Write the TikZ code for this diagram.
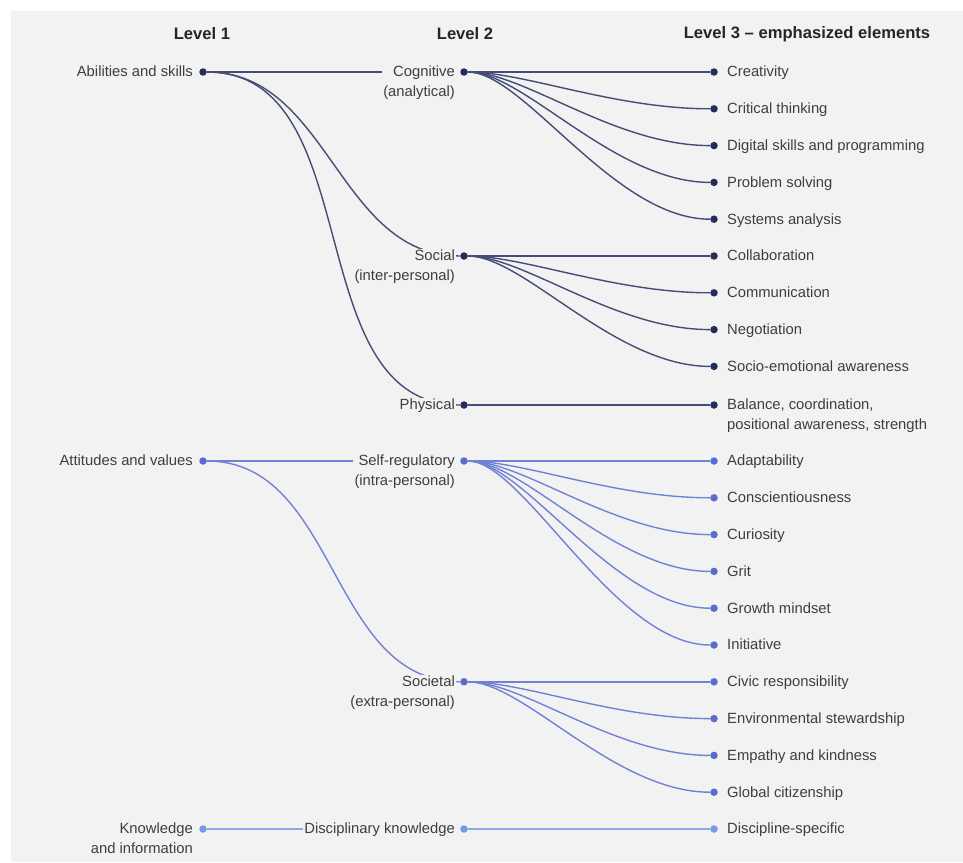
\documentclass[tikz,border=0pt]{standalone}
\usepackage{fontspec}
\setmainfont{Liberation Sans}
\usetikzlibrary{positioning}

\definecolor{paper}{RGB}{242,242,242}
\definecolor{skillc}{RGB}{36,44,94}
\definecolor{valuec}{RGB}{88,108,206}
\definecolor{knowc}{RGB}{116,154,230}
\definecolor{inkc}{RGB}{62,62,62}

\pgfdeclarelayer{paperlayer}
\pgfdeclarelayer{wires}
\pgfsetlayers{paperlayer,wires,main}

\begin{document}
\begin{tikzpicture}[
        x=1pt, y=1pt,
        node distance=28.9pt and 242.1pt,
        every node/.style={font=\fontsize{14.8}{19.8}\selectfont, text=inkc},
        heading/.style={font=\fontsize{16.6}{19}\selectfont\bfseries, text=black!85},
        dot/.style={circle, fill=#1, inner sep=0pt, minimum size=7.5pt},
        lefttext/.style={anchor=north east, align=right, fill=paper, inner sep=1pt, yshift=7.1pt},
        righttext/.style={anchor=north west, align=left, inner sep=1pt, yshift=7.1pt},
        wire/.style={line width=1.4pt, draw=#1!85!white},
        drop/.style={out=0, in=180},
        fan/.style={to path={.. controls +(60,0) and +(-100,0) .. (\tikztotarget)}}
    ]
    \useasboundingbox (0,0) rectangle (963,-862);

    % Headings
    \node[heading] (lev1) at (202,-34) {Level 1};
    \node[heading] (lev2) at (465,-34) {Level 2};
    \node[heading] (lev3) at (807,-34) {Level 3 -- emphasized elements};

    % Level 3 dots
    \node[dot=skillc] (crea) at (714,-72) {};
    \node[dot=skillc, below=of crea] (crit) {};
    \node[dot=skillc, below=of crit] (digi) {};
    \node[dot=skillc, below=of digi] (prob) {};
    \node[dot=skillc, below=of prob] (syst) {};
    \node[dot=skillc, below=of syst] (coll) {};
    \node[dot=skillc, below=of coll] (comm) {};
    \node[dot=skillc, below=of comm] (nego) {};
    \node[dot=skillc, below=of nego] (emot) {};
    \node[dot=skillc, below=of emot, yshift=-1.8pt] (bala) {};
    \node[dot=valuec, below=of bala, yshift=-19.2pt] (adap) {};
    \node[dot=valuec, below=of adap] (cons) {};
    \node[dot=valuec, below=of cons] (curi) {};
    \node[dot=valuec, below=of curi] (grit) {};
    \node[dot=valuec, below=of grit] (grow) {};
    \node[dot=valuec, below=of grow] (init) {};
    \node[dot=valuec, below=of init] (civi) {};
    \node[dot=valuec, below=of civi] (envi) {};
    \node[dot=valuec, below=of envi] (empa) {};
    \node[dot=valuec, below=of empa] (glob) {};
    \node[dot=knowc, below=of glob] (disc) {};

    % Level 2 dots
    \node[dot=skillc, left=of crea] (cogn) {};
    \node[dot=skillc, left=of coll] (soci) {};
    \node[dot=skillc, left=of bala] (phys) {};
    \node[dot=valuec, left=of adap] (selfr) {};
    \node[dot=valuec, left=of civi] (socie) {};
    \node[dot=knowc, left=of disc] (disci) {};

    % Level 1 dots
    \node[dot=skillc, left=253.1pt of cogn] (abil) {};
    \node[dot=valuec, left=253.1pt of selfr] (atti) {};
    \node[dot=knowc, left=253.1pt of disci] (know) {};

    % Labels
    \node[left=5pt of abil, lefttext] (abiltxt) {Abilities and skills};
    \node[left=5pt of atti, lefttext] (attitxt) {Attitudes and values};
    \node[left=5pt of know, lefttext] (knowtxt) {Knowledge\\and information};

    \node[left=4pt of cogn, lefttext] (cogntxt) {Cognitive\\(analytical)};
    \node[left=4pt of soci, lefttext] (socitxt) {Social\\(inter-personal)};
    \node[left=4pt of phys, lefttext] (phystxt) {Physical};
    \node[left=4pt of selfr, lefttext] (selfrtxt) {Self-regulatory\\(intra-personal)};
    \node[left=4pt of socie, lefttext] (societxt) {Societal\\(extra-personal)};
    \node[left=4pt of disci, lefttext] (discitxt) {Disciplinary knowledge};

    \node[right=8pt of crea, righttext] {Creativity};
    \node[right=8pt of crit, righttext] {Critical thinking};
    \node[right=8pt of digi, righttext] {Digital skills and programming};
    \node[right=8pt of prob, righttext] {Problem solving};
    \node[right=8pt of syst, righttext] {Systems analysis};
    \node[right=8pt of coll, righttext] {Collaboration};
    \node[right=8pt of comm, righttext] {Communication};
    \node[right=8pt of nego, righttext] {Negotiation};
    \node[right=8pt of emot, righttext] {Socio-emotional awareness};
    \node[right=8pt of bala, righttext] {Balance, coordination,\\positional awareness, strength};
    \node[right=8pt of adap, righttext] {Adaptability};
    \node[right=8pt of cons, righttext] {Conscientiousness};
    \node[right=8pt of curi, righttext] {Curiosity};
    \node[right=8pt of grit, righttext] {Grit};
    \node[right=8pt of grow, righttext] {Growth mindset};
    \node[right=8pt of init, righttext] {Initiative};
    \node[right=8pt of civi, righttext] {Civic responsibility};
    \node[right=8pt of envi, righttext] {Environmental stewardship};
    \node[right=8pt of empa, righttext] {Empathy and kindness};
    \node[right=8pt of glob, righttext] {Global citizenship};
    \node[right=8pt of disc, righttext] {Discipline-specific};

    % Paper
    \begin{pgfonlayer}{paperlayer}
        \fill[white] (0,0) rectangle (963,-862);
        \fill[paper] (11,-11) rectangle (963,-862);
    \end{pgfonlayer}

    % Edges
    \begin{pgfonlayer}{wires}
        \draw[wire=skillc] (abil) -- (abil -| cogntxt.west);
        \draw[wire=skillc] (abil) to[drop] (soci);
        \draw[wire=skillc] (abil) to[drop] (phys);
        \draw[wire=skillc] (cogn) -- (crea);
        \draw[wire=skillc] (cogn) to[fan] (crit);
        \draw[wire=skillc] (cogn) to[fan] (digi);
        \draw[wire=skillc] (cogn) to[fan] (prob);
        \draw[wire=skillc] (cogn) to[fan] (syst);
        \draw[wire=skillc] (soci) -- (coll);
        \draw[wire=skillc] (soci) to[fan] (comm);
        \draw[wire=skillc] (soci) to[fan] (nego);
        \draw[wire=skillc] (soci) to[fan] (emot);
        \draw[wire=skillc] (phys) -- (bala);

        \draw[wire=valuec] (atti) -- (atti -| selfrtxt.west);
        \draw[wire=valuec] (atti) to[drop] (socie);
        \draw[wire=valuec] (selfr) -- (adap);
        \draw[wire=valuec] (selfr) to[fan] (cons);
        \draw[wire=valuec] (selfr) to[fan] (curi);
        \draw[wire=valuec] (selfr) to[fan] (grit);
        \draw[wire=valuec] (selfr) to[fan] (grow);
        \draw[wire=valuec] (selfr) to[fan] (init);
        \draw[wire=valuec] (socie) -- (civi);
        \draw[wire=valuec] (socie) to[fan] (envi);
        \draw[wire=valuec] (socie) to[fan] (empa);
        \draw[wire=valuec] (socie) to[fan] (glob);

        \draw[wire=knowc] (know) -- (know -| discitxt.west);
        \draw[wire=knowc] (disci) -- (disc);
    \end{pgfonlayer}

\end{tikzpicture}
\end{document}
